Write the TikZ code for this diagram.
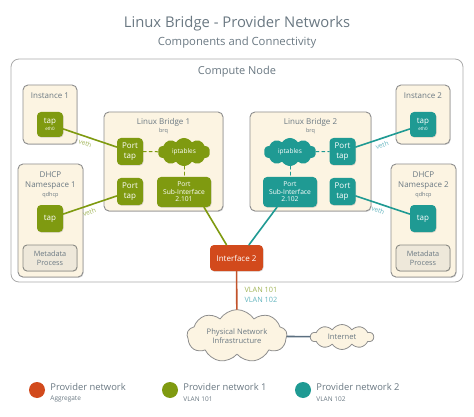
\documentclass[tikz,border=0pt]{standalone}
\usepackage{fontspec}
\setmainfont{Open Sans}
\usetikzlibrary{shapes.symbols,shadows,positioning}
\definecolor{pnorange}{HTML}{D24A1C}
\definecolor{pngreen}{HTML}{7F9A10}
\definecolor{pnteal}{HTML}{1F9A93}
\definecolor{txtgray}{HTML}{6A7882}
\definecolor{boxfill}{HTML}{FCF4E2}
\definecolor{boxline}{HTML}{8E8E8E}
\definecolor{metafill}{HTML}{EEE8DA}
\definecolor{metaline}{HTML}{8A8A84}
\definecolor{greenlight}{HTML}{A0B455}
\definecolor{teallight}{HTML}{62B4BE}
\definecolor{uplink}{HTML}{C2532B}
\definecolor{netlink}{HTML}{5B6F80}
\definecolor{framegray}{HTML}{ABABAB}
\begin{document}
\begin{tikzpicture}[x=1pt, y=-1pt, line cap=round, line join=round,
    lbl/.style={text=txtgray, inner sep=0pt, align=center},
    holder/.style={draw=boxline, fill=boxfill, line width=0.9pt, rounded corners=5pt,
        drop shadow={shadow xshift=0.7pt, shadow yshift=-0.9pt, opacity=0.3}},
    port/.style={rounded corners=4pt, text=white, inner sep=0pt, align=center,
        font=\fontsize{8}{9.5}\selectfont, minimum width=26, minimum height=27,
        drop shadow={shadow xshift=0.5pt, shadow yshift=-0.7pt, opacity=0.3}},
    meta/.style={draw=metaline, fill=metafill, line width=0.9pt, rounded corners=4pt,
        text=txtgray, align=center, inner sep=0pt, font=\fontsize{7.3}{9}\selectfont,
        minimum width=54, minimum height=26,
        drop shadow={shadow xshift=0.5pt, shadow yshift=-0.7pt, opacity=0.3}},
    fluff/.style={cloud, cloud puffs=10, cloud puff arc=115, aspect=2.2, inner sep=0pt, align=center},
    veth/.style={sloped, below=3pt, pos=0.45, font=\fontsize{6.5}{7}\selectfont, inner sep=0pt},
    wire/.style={line width=1.6pt}]
    \useasboundingbox (0,0) rectangle (474,417);
    % titles
    \node[lbl, font=\fontsize{14.8}{17}\selectfont] (title) at (237,24) {Linux Bridge - Provider Networks};
    \node[lbl, font=\fontsize{11.3}{13}\selectfont] (subtitle) at (237,43) {Components and Connectivity};
    % compute node frame and containers
    \node[draw=framegray, fill=white, line width=0.8pt, rounded corners=8pt,
        minimum width=452, minimum height=223] (compute) at (237,170.5) {};
    \node[lbl, font=\fontsize{11}{13}\selectfont] (computelbl) at (237,72) {Compute Node};
    \node[holder, minimum width=54, minimum height=59] (inst1) at (50,114.5) {};
    \node[holder, minimum width=65, minimum height=113] (dhcp1) at (50.5,220.5) {};
    \node[holder, minimum width=119, minimum height=99] (br1) at (163.5,161.5) {};
    \node[holder, minimum width=121, minimum height=99] (br2) at (310.5,161.5) {};
    \node[holder, minimum width=54, minimum height=59] (inst2) at (423,114.5) {};
    \node[holder, minimum width=65, minimum height=113] (dhcp2) at (423.5,220.5) {};
    % container labels
    \foreach \name/\x/\y/\txt in {inst1/50/96/Instance 1, inst2/423/96/Instance 2,
        br1/163.5/122/Linux Bridge 1, br2/310.5/122/Linux Bridge 2,
        dhcp1/50.5/175/DHCP, dhcp2/423.5/175/DHCP,
        dhcp1/50.5/186/Namespace 1, dhcp2/423.5/186/Namespace 2}
        \node[lbl, font=\fontsize{8}{9}\selectfont] at (\x,\y) {\txt};
    \foreach \x/\y/\txt in {163.5/131.5/brq, 310.5/131.5/brq, 50.5/195.5/qdhcp, 423.5/195.5/qdhcp}
        \node[lbl, font=\fontsize{5.5}{6}\selectfont] at (\x,\y) {\txt};
    % ports
    \node[port, fill=pngreen, minimum height=25] (tap1) at (50,124.5) {tap\\[-2pt]{\fontsize{4.5}{4.5}\selectfont eth0}};
    \node[port, fill=pngreen] (tapd1) at (50,218.5) {tap};
    \node[port, fill=pngreen] (porttap1a) at (130,151.5) {Port\\tap};
    \node[port, fill=pngreen] (porttap1b) at (130,191.5) {Port\\tap};
    \node[fluff, fill=pngreen, text=white, minimum width=52, minimum height=28,
        font=\fontsize{6.5}{7.5}\selectfont] (ipt1) at (184,152) {iptables};
    \node[port, fill=pngreen, minimum width=54, minimum height=30,
        font=\fontsize{6.7}{7.6}\selectfont] (sub1) at (184,192) {Port\\Sub-Interface\\2.101};
    \node[fluff, fill=pnteal, text=white, minimum width=52, minimum height=28,
        font=\fontsize{6.5}{7.5}\selectfont] (ipt2) at (290,152) {iptables};
    \node[port, fill=pnteal, minimum width=54, minimum height=30,
        font=\fontsize{6.7}{7.6}\selectfont] (sub2) at (290,192) {Port\\Sub-Interface\\2.102};
    \node[port, fill=pnteal] (porttap2a) at (342.5,151.5) {Port\\tap};
    \node[port, fill=pnteal] (porttap2b) at (342.5,191.5) {Port\\tap};
    \node[port, fill=pnteal, minimum height=25] (tap2) at (423,124.5) {tap\\[-2pt]{\fontsize{4.5}{4.5}\selectfont eth0}};
    \node[port, fill=pnteal] (tapd2) at (423,218.5) {tap};
    \node[meta] (meta1) at (50,258) {Metadata\\Process};
    \node[meta] (meta2) at (423,258) {Metadata\\Process};
    \node[port, fill=pnorange, minimum width=53, minimum height=26] (iface) at (236.5,258) {Interface 2};
    % outside
    \node[fluff, cloud puffs=9, draw=boxline, fill=boxfill, line width=0.8pt, text=txtgray,
        minimum width=100, minimum height=42, font=\fontsize{7.6}{9.5}\selectfont] (phys) at (237,336) {Physical Network\\Infrastructure};
    \node[fluff, draw=boxline, fill=boxfill, line width=0.8pt, text=txtgray, minimum width=63, minimum height=25,
        font=\fontsize{7.6}{9}\selectfont] (inet) at (342,337) {Internet};
    % connectors
    \draw[wire, pngreen] (tap1) -- node[veth, text=greenlight] {veth} (porttap1a);
    \draw[wire, pngreen] (tapd1) -- node[veth, text=greenlight] {veth} (porttap1b);
    \draw[wire, pnteal] (porttap2a) -- node[veth, text=teallight] {veth} (tap2);
    \draw[wire, pnteal] (porttap2b) -- node[veth, text=teallight] {veth} (tapd2);
    \draw[pngreen, line width=1pt, dashed] (porttap1a) -- (ipt1);
    \draw[pngreen, line width=1pt, dashed] (ipt1) -- (sub1);
    \draw[pnteal, line width=1pt, dashed] (ipt2) -- (porttap2a);
    \draw[pnteal, line width=1pt, dashed] (ipt2) -- (sub2);
    \draw[wire, pngreen] ([xshift=20pt]sub1.south) -- ([xshift=-10pt]iface.north);
    \draw[wire, pnteal] ([xshift=-13pt]sub2.south) -- ([xshift=12.5pt]iface.north);
    \draw[wire, uplink] (iface) -- (phys)
        node[pos=0.62, right=7pt, lbl, align=left, font=\fontsize{7.3}{10.5}\selectfont]
        {\textcolor{greenlight}{VLAN 101}\\\textcolor{teallight}{VLAN 102}};
    \draw[wire, netlink] (phys) -- (inet);
    % legend
    \foreach \nm/\col/\x/\head/\sub in {agg/pnorange/37/Provider network/Aggregate,
        vlan1/pngreen/170/Provider network 1/VLAN 101, vlan2/pnteal/303/Provider network 2/VLAN 102}{
        \node[circle, fill=\col, minimum size=16, inner sep=0pt] (leg\nm) at (\x,390) {};
        \node[lbl, anchor=west, font=\fontsize{9.4}{11}\selectfont] at ([xshift=5pt, yshift=3pt]leg\nm.east) {\head};
        \node[lbl, anchor=west, font=\fontsize{6.5}{7.5}\selectfont] at ([xshift=5pt, yshift=-9pt]leg\nm.east) {\sub};
    }
\end{tikzpicture}
\end{document}
